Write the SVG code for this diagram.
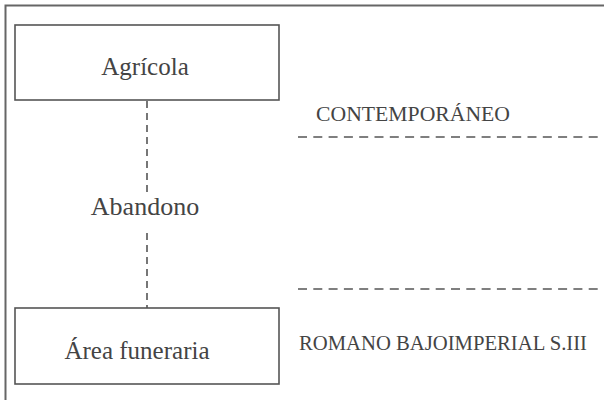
<svg xmlns="http://www.w3.org/2000/svg" width="604" height="400" viewBox="0 0 604 400">
<style>
.box{fill:#fff;stroke:#555;stroke-width:1.6}
.lbl{font-family:"Liberation Serif","Times New Roman",serif;fill:#444}
.dash{stroke:#555;stroke-width:1.6;fill:none}
</style>
<rect x="0" y="0" width="604" height="400" fill="#fff"/>
<path d="M5.5,400 V5.5 H604" fill="none" stroke="#666" stroke-width="2"/>
<g id="connectors">
<line class="dash" x1="147" y1="101" x2="147" y2="195" stroke-dasharray="7,5"/>
<line class="dash" x1="147" y1="233" x2="147" y2="308" stroke-dasharray="7,5"/>
<line class="dash" x1="298" y1="137" x2="604" y2="137" stroke-dasharray="9,6.3"/>
<line class="dash" x1="298" y1="289" x2="604" y2="289" stroke-dasharray="9,6.3"/>
</g>
<g id="agricola">
<rect class="box" x="15" y="25" width="264" height="75"/>
<text class="lbl" x="145" y="75" font-size="25" text-anchor="middle">Agrícola</text>
</g>
<g id="abandono">
<text class="lbl" x="145" y="215" font-size="26" text-anchor="middle">Abandono</text>
</g>
<g id="area-funeraria">
<rect class="box" x="15" y="308" width="264" height="76"/>
<text class="lbl" x="137" y="359" font-size="25" text-anchor="middle">Área funeraria</text>
</g>
<g id="contemporaneo">
<text class="lbl" x="316" y="121" font-size="20" textLength="194" lengthAdjust="spacingAndGlyphs">CONTEMPORÁNEO</text>
</g>
<g id="romano">
<text class="lbl" x="299" y="350" font-size="20" textLength="288" lengthAdjust="spacingAndGlyphs">ROMANO BAJOIMPERIAL S.III</text>
</g>
</svg>
